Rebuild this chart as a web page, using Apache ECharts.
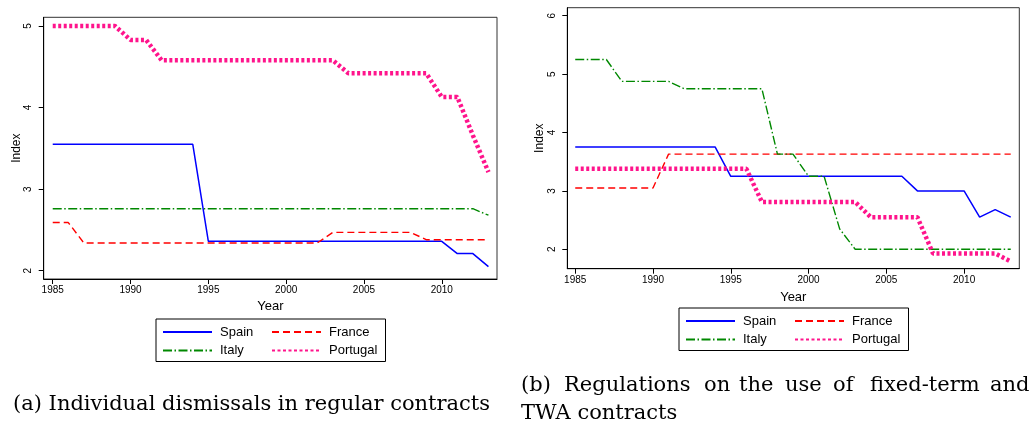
<!DOCTYPE html>
<html>
<head>
<meta charset="utf-8">
<script src="https://cdn.jsdelivr.net/npm/echarts@6/dist/echarts.min.js"></script>
<style>
html,body{margin:0;padding:0;background:#fff;}
#c{width:1033px;height:422px;}
</style>
</head>
<body>
<div id="c"></div>
<script>
// ---- data ----
var years = [1985,1986,1987,1988,1989,1990,1991,1992,1993,1994,1995,1996,1997,1998,1999,2000,2001,2002,2003,2004,2005,2006,2007,2008,2009,2010,2011,2012,2013];
var xTicks = [1985,1990,1995,2000,2005,2010];
var yTicksA = [2,3,4,5];
var yTicksB = [2,3,4,5,6];
var countries = ['Spain','France','Italy','Portugal'];

// (a) Individual dismissals in regular contracts
var spainA    = [3.55,3.55,3.55,3.55,3.55,3.55,3.55,3.55,3.55,3.55,2.36,2.36,2.36,2.36,2.36,2.36,2.36,2.36,2.36,2.36,2.36,2.36,2.36,2.36,2.36,2.36,2.21,2.21,2.05];
var franceA   = [2.59,2.59,2.34,2.34,2.34,2.34,2.34,2.34,2.34,2.34,2.34,2.34,2.34,2.34,2.34,2.34,2.34,2.34,2.47,2.47,2.47,2.47,2.47,2.47,2.38,2.38,2.38,2.38,2.38];
var italyA    = [2.76,2.76,2.76,2.76,2.76,2.76,2.76,2.76,2.76,2.76,2.76,2.76,2.76,2.76,2.76,2.76,2.76,2.76,2.76,2.76,2.76,2.76,2.76,2.76,2.76,2.76,2.76,2.76,2.68];
var portugalA = [5.00,5.00,5.00,5.00,5.00,4.83,4.83,4.58,4.58,4.58,4.58,4.58,4.58,4.58,4.58,4.58,4.58,4.58,4.58,4.42,4.42,4.42,4.42,4.42,4.42,4.13,4.13,3.66,3.21];

// (b) Regulations on the use of fixed-term and TWA contracts
var spainB    = [3.75,3.75,3.75,3.75,3.75,3.75,3.75,3.75,3.75,3.75,3.25,3.25,3.25,3.25,3.25,3.25,3.25,3.25,3.25,3.25,3.25,3.25,3.00,3.00,3.00,3.00,2.55,2.68,2.55];
var franceB   = [3.05,3.05,3.05,3.05,3.05,3.05,3.63,3.63,3.63,3.63,3.63,3.63,3.63,3.63,3.63,3.63,3.63,3.63,3.63,3.63,3.63,3.63,3.63,3.63,3.63,3.63,3.63,3.63,3.63];
var italyB    = [5.25,5.25,5.25,4.875,4.875,4.875,4.875,4.75,4.75,4.75,4.75,4.75,4.75,3.63,3.63,3.25,3.25,2.35,2.00,2.00,2.00,2.00,2.00,2.00,2.00,2.00,2.00,2.00,2.00];
var portugalB = [3.38,3.38,3.38,3.38,3.38,3.38,3.38,3.38,3.38,3.38,3.38,3.38,2.81,2.81,2.81,2.81,2.81,2.81,2.81,2.55,2.55,2.55,2.55,1.93,1.93,1.93,1.93,1.93,1.79];

var captionA = '(a) Individual dismissals in regular contracts';
var captionB1 = ['(b)','Regulations','on','the','use','of','fixed-term','and'];
var captionB2 = 'TWA contracts';

// ---- styles ----
var styles = {
  Spain:    {color:'#0000FF', width:1.5, type:'solid'},
  France:   {color:'#FF0000', width:1.4, type:[7,4]},
  Italy:    {color:'#008800', width:1.4, type:[9,2.5,1.5,2.5]},
  Portugal: {color:'#FF148C', width:4.5, type:[3,2.5]}
};

function pairs(vals){ return years.map(function(y,i){ return [y, vals[i]]; }); }

function mkSeries(name, vals, idx){
  var s = styles[name];
  return {
    type:'line', name:name, xAxisIndex:idx, yAxisIndex:idx,
    data:pairs(vals), symbol:'none', showSymbol:false, animation:false,
    lineStyle:{color:s.color, width:s.width, type:s.type},
    itemStyle:{color:s.color},
    emphasis:{disabled:true}
  };
}

var FONT = '"Liberation Sans", Arial, Helvetica, sans-serif';
function plain(v){ return String(v); }

function xAxis(idx, min, max, margin){
  return {
    type:'value', gridIndex:idx, min:min, max:max,
    name:'Year', nameLocation:'middle', nameGap:16,
    nameTextStyle:{fontFamily:FONT, fontSize:13, color:'#000', verticalAlign:'top'},
    axisLine:{show:true, lineStyle:{color:'#000', width:1}},
    axisTick:{show:true, length:5, inside:false, lineStyle:{color:'#000'}, customValues:xTicks},
    axisLabel:{show:true, margin:margin, fontFamily:FONT, fontSize:10, color:'#000', customValues:xTicks, formatter:plain},
    splitLine:{show:false}
  };
}
function yAxis(idx, min, max, ticks, gap){
  return {
    type:'value', gridIndex:idx, min:min, max:max,
    name:'Index', nameLocation:'middle', nameGap:gap,
    nameTextStyle:{fontFamily:FONT, fontSize:12, color:'#000'},
    axisLine:{show:true, lineStyle:{color:'#000', width:1}},
    axisTick:{show:true, length:5, inside:false, lineStyle:{color:'#000'}, customValues:ticks},
    axisLabel:{show:true, rotate:90, margin:10, fontFamily:FONT, fontSize:10, color:'#000', customValues:ticks, formatter:plain},
    splitLine:{show:false}
  };
}

function legend(left, top){
  return {
    left:left, top:top, orient:'horizontal',
    data:[countries[0], countries[1], '\n', countries[2], countries[3]], selectedMode:false,
    itemWidth:49, itemHeight:16, itemGap:2.5,
    padding:[5,8,3,6],
    borderColor:'#000', borderWidth:1, backgroundColor:'#fff',
    itemStyle:{opacity:0, color:'transparent', borderColor:'transparent', borderWidth:0},
    textStyle:{fontFamily:FONT, fontSize:13, color:'#000', width:48.5, lineHeight:16, padding:[0,0,0,3]}
  };
}

var CAPFONT = '21px "DejaVu Serif", serif';
var graphics = [];
graphics.push({type:'text', x:13, y:405, silent:true,
  style:{text:captionA, font:CAPFONT, fill:'#000', verticalAlign:'middle'}});
var wordX = [521,564,704,739,785,833,870,990];
captionB1.forEach(function(w,i){
  graphics.push({type:'text', x:wordX[i], y:385.5, silent:true,
    style:{text:w, font:CAPFONT, fill:'#000', verticalAlign:'middle'}});
});
graphics.push({type:'text', x:521, y:413.5, silent:true,
  style:{text:captionB2, font:CAPFONT, fill:'#000', verticalAlign:'middle'}});

var option = {
  animation:false,
  backgroundColor:'#fff',
  grid:[
    {left:43.7, top:17.3, width:453.3, height:261.7, show:true, borderColor:'#333', borderWidth:1, backgroundColor:'transparent', containLabel:false, outerBoundsMode:'none'},
    {left:567.3, top:7.7, width:452, height:261, show:true, borderColor:'#333', borderWidth:1, backgroundColor:'transparent', containLabel:false, outerBoundsMode:'none'}
  ],
  xAxis:[ xAxis(0, 1984.42, 2013.55, 6), xAxis(1, 1984.49, 2013.55, 7) ],
  yAxis:[ yAxis(0, 1.898, 5.107, yTicksA, 21), yAxis(1, 1.668, 6.137, yTicksB, 22) ],
  legend:[ legend(156, 319), legend(679, 308) ],
  tooltip:{show:false},
  series:[
    mkSeries('Spain', spainA, 0), mkSeries('France', franceA, 0), mkSeries('Italy', italyA, 0), mkSeries('Portugal', portugalA, 0),
    mkSeries('Spain', spainB, 1), mkSeries('France', franceB, 1), mkSeries('Italy', italyB, 1), mkSeries('Portugal', portugalB, 1)
  ],
  graphic:graphics
};

var chart = echarts.init(document.getElementById('c'), null, {renderer:'canvas'});
chart.setOption(option);
</script>
</body>
</html>
